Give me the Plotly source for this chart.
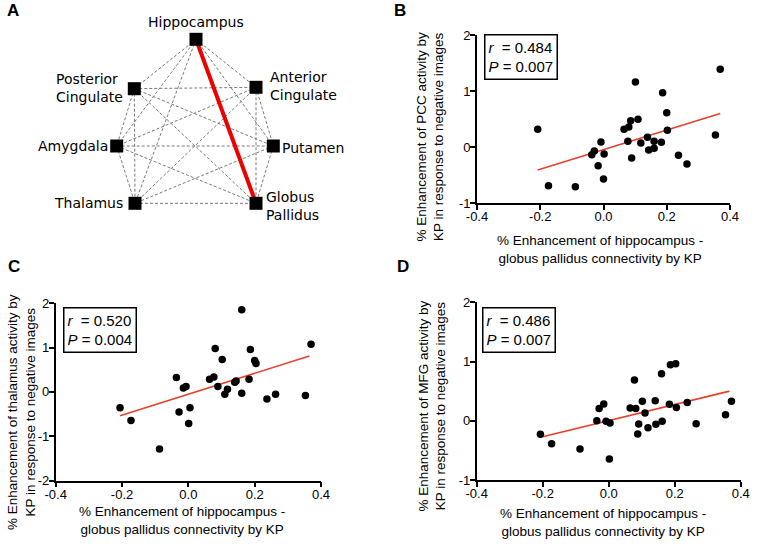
import plotly.graph_objects as go

W, H = 757, 544

# ---------------- Panel A: network ----------------
node_names = ["Hippocampus", "Posterior Cingulate", "Anterior Cingulate",
              "Amygdala", "Putamen", "Thalamus", "Globus Pallidus"]
node_x = [196, 134.3, 256, 116.7, 273.3, 135, 256]
node_y = [39.3, 88.7, 87.3, 146, 146, 203.3, 203.3]
label_text = ["Hippocampus", "Posterior<br>Cingulate", "Anterior<br>Cingulate",
              "Amygdala", "Putamen", "Thalamus", "Globus<br>Pallidus"]
highlight_edge = ("Hippocampus", "Globus Pallidus")

# ---------------- Panel B: PCC ----------------
b_x = [-0.208, -0.174, -0.089, -0.037, -0.029, -0.017, -0.008, 0.002, 0.0,
       0.065, 0.080, 0.086, 0.077, 0.089, 0.101, 0.109, 0.118, 0.139, 0.143,
       0.160, 0.160, 0.183, 0.187, 0.200, 0.202, 0.237, 0.264, 0.354, 0.369]
b_y = [0.315, -0.69, -0.71, -0.137, -0.07, -0.333, 0.089, -0.125, -0.571,
       0.315, 0.357, 0.47, 0.101, -0.196, 1.16, 0.494, 0.071, 0.173, -0.054,
       0.101, -0.024, 0.083, 0.970, 0.613, 0.298, -0.149, -0.304, 0.214, 1.387]
b_fit_x = [-0.208, 0.369]
b_fit_y = [-0.41, 0.60]

# ---------------- Panel C: thalamus ----------------
c_x = [-0.206, -0.173, -0.087, -0.036, -0.028, -0.015, -0.007, 0.005, 0.001,
       0.064, 0.077, 0.081, 0.089, 0.102, 0.110, 0.118, 0.140, 0.144, 0.161,
       0.161, 0.183, 0.187, 0.200, 0.204, 0.237, 0.263, 0.353, 0.370]
c_y = [-0.36, -0.647, -1.29, 0.323, -0.451, 0.09, 0.12, -0.36, -0.714,
       0.286, 0.338, 0.977, 0.12, 0.729, -0.053, 0.06, 0.218, 0.248, 1.857,
       -0.03, 0.286, 0.955, 0.707, 0.639, -0.158, -0.053, -0.083, 1.075]
c_fit_x = [-0.206, 0.365]
c_fit_y = [-0.54, 0.81]

# ---------------- Panel D: MFG ----------------
d_x = [-0.207, -0.173, -0.087, -0.036, -0.029, -0.015, -0.008, 0.004, 0.002,
       0.065, 0.078, 0.082, 0.088, 0.091, 0.102, 0.110, 0.119, 0.141, 0.143,
       0.162, 0.160, 0.184, 0.187, 0.203, 0.205, 0.238, 0.265, 0.354, 0.372]
d_y = [-0.229, -0.387, -0.477, 0.002, 0.205, 0.284, -0.010, -0.038, -0.645,
       0.215, 0.688, 0.209, -0.223, -0.055, 0.328, 0.131, -0.116, 0.339, -0.06,
       -0.01, 0.795, 0.277, 0.947, 0.964, 0.225, 0.31, -0.049, 0.103, 0.328]
d_fit_x = [-0.200, 0.366]
d_fit_y = [-0.27, 0.50]

r_vals = [0.484, 0.520, 0.486]
p_vals = [0.007, 0.004, 0.007]

x_tickvals = [-0.4, -0.2, 0.0, 0.2, 0.4]
x_ticktext = ["-0.4", "-0.2", "0.0", "0.2", "0.4"]
x_title = "% Enhancement of hippocampus -<br>globus pallidus connectivity by KP"
y_titles = [
    "% Enhancement of PCC activity by<br>KP in response to negative images",
    "% Enhancement of thalamus activity by<br>KP in response to negative images",
    "% Enhancement of MFG activity by<br>KP in response to negative images",
]

FONT = "Liberation Sans, Arial, Helvetica, sans-serif"
FONT_A = "DejaVu Sans, Verdana, sans-serif"


def px(x):
    return x / W


def py(y):
    return 1 - y / H


fig = go.Figure()

# ---- network edges ----
idx = {n: i for i, n in enumerate(node_names)}
ex, ey = [], []
for i in range(len(node_names)):
    for j in range(i + 1, len(node_names)):
        if {node_names[i], node_names[j]} == set(highlight_edge):
            continue
        ex += [node_x[i], node_x[j], None]
        ey += [node_y[i], node_y[j], None]
fig.add_trace(go.Scatter(x=ex, y=ey, mode="lines", xaxis="x4", yaxis="y4",
                         line=dict(color="#7a7a7a", width=1, dash="3px,2px"),
                         hoverinfo="skip", showlegend=False))
a, b = idx[highlight_edge[0]], idx[highlight_edge[1]]
fig.add_trace(go.Scatter(x=[node_x[a], node_x[b]], y=[node_y[a], node_y[b]],
                         mode="lines", xaxis="x4", yaxis="y4",
                         line=dict(color="#ee0000", width=4),
                         hoverinfo="skip", showlegend=False))
fig.add_trace(go.Scatter(x=node_x, y=node_y, mode="markers", xaxis="x4", yaxis="y4",
                         marker=dict(symbol="square", size=13, color="black"),
                         showlegend=False))

label_style = [
    dict(xanchor="center", yanchor="middle", xshift=0, yshift=17, align="center"),
    dict(xanchor="right", yanchor="middle", xshift=-9, yshift=1, align="left"),
    dict(xanchor="left", yanchor="middle", xshift=12, yshift=1, align="left"),
    dict(xanchor="right", yanchor="middle", xshift=-7, yshift=0, align="right"),
    dict(xanchor="left", yanchor="middle", xshift=7, yshift=-2, align="left"),
    dict(xanchor="right", yanchor="middle", xshift=-10, yshift=0, align="right"),
    dict(xanchor="left", yanchor="middle", xshift=8, yshift=-3, align="left"),
]
annotations = []
for i, t in enumerate(label_text):
    annotations.append(dict(x=node_x[i], y=node_y[i], xref="x4", yref="y4", text=t,
                            showarrow=False, font=dict(family=FONT_A, size=14, color="black"),
                            **label_style[i]))

# ---- scatter panels ----
panels = [
    dict(xs=b_x, ys=b_y, fx=b_fit_x, fy=b_fit_y, xa="x", ya="y"),
    dict(xs=c_x, ys=c_y, fx=c_fit_x, fy=c_fit_y, xa="x2", ya="y2"),
    dict(xs=d_x, ys=d_y, fx=d_fit_x, fy=d_fit_y, xa="x3", ya="y3"),
]
for p in panels:
    fig.add_trace(go.Scatter(x=p["fx"], y=p["fy"], mode="lines", xaxis=p["xa"], yaxis=p["ya"],
                             line=dict(color="#e8412b", width=1.6), showlegend=False,
                             hoverinfo="skip"))
    fig.add_trace(go.Scatter(x=p["xs"], y=p["ys"], mode="markers", xaxis=p["xa"], yaxis=p["ya"],
                             marker=dict(color="black", size=7.5), showlegend=False))

axis_common = dict(showline=True, linecolor="black", linewidth=1.6, ticks="outside",
                   ticklen=5, tickwidth=1.6, tickcolor="black", showgrid=False,
                   zeroline=False, automargin=False,
                   tickfont=dict(family=FONT, size=13, color="black"))

geom = [
    # (x0, x1, ytop, ybottom, yrange, yticks)
    (477, 730, 35, 203, [-1, 2], [-1, 0, 1, 2]),
    (55.7, 321, 303.3, 480.5, [-2, 2], [-2, -1, 0, 1, 2]),
    (476.7, 740.7, 302.3, 480, [-1, 2], [-1, 0, 1, 2]),
]
layout_axes = {}
names = [("xaxis", "yaxis", "y", "x"), ("xaxis2", "yaxis2", "y2", "x2"),
         ("xaxis3", "yaxis3", "y3", "x3")]
for (xn, yn, yanc, xanc), (x0, x1, yt, yb, yr, yt_vals) in zip(names, geom):
    layout_axes[xn] = dict(domain=[px(x0), px(x1)], range=[-0.4, 0.4], anchor=yanc,
                           tickvals=x_tickvals, ticktext=x_ticktext,
                           ticklabelstandoff=-4, **axis_common)
    layout_axes[yn] = dict(domain=[py(yb), py(yt)], range=yr, anchor=xanc,
                           tickvals=yt_vals, ticktext=[str(v) for v in yt_vals],
                           ticklabelstandoff=-3, **axis_common)

layout_axes["xaxis4"] = dict(domain=[0, px(330)], range=[0, 330], visible=False,
                             anchor="y4", automargin=False)
layout_axes["yaxis4"] = dict(domain=[py(240), 1], range=[240, 0], visible=False,
                             anchor="x4", automargin=False)

# stat boxes
box_pos = [(484, 34), (63.3, 306.7), (481.7, 306.7)]
for (bx, by), r, pv in zip(box_pos, r_vals, p_vals):
    annotations.append(dict(x=px(bx), y=py(by), xref="paper", yref="paper",
                            xanchor="left", yanchor="top", align="left", showarrow=False,
                            text=f"<i>r</i>  = {r:.3f}<br><i>P</i> = {pv:.3f}",
                            font=dict(family=FONT, size=15, color="black"),
                            bordercolor="black", borderwidth=1.5, borderpad=3,
                            bgcolor="white"))

# x-axis titles
xt_pos = [(600, 250), (181.6, 520.5), (603, 522.7)]
for cx, cy in xt_pos:
    annotations.append(dict(x=px(cx), y=py(cy), xref="paper", yref="paper",
                            xanchor="center", yanchor="middle", showarrow=False,
                            text=x_title, font=dict(family=FONT, size=13.5, color="black")))

# y-axis titles (rotated)
yt_pos = [(429.5, 137), (21, 412), (431.5, 406)]
for (cx, cy), t in zip(yt_pos, y_titles):
    annotations.append(dict(x=px(cx), y=py(cy), xref="paper", yref="paper",
                            xanchor="center", yanchor="middle", showarrow=False,
                            textangle=-90, text=t,
                            font=dict(family=FONT, size=13.5, color="black")))

# panel letters
for letter, lx, ly in [("A", 13, 10), ("B", 400, 10), ("C", 14, 267), ("D", 403, 267)]:
    annotations.append(dict(x=px(lx), y=py(ly), xref="paper", yref="paper",
                            xanchor="center", yanchor="middle", showarrow=False,
                            text=f"<b>{letter}</b>",
                            font=dict(family=FONT, size=17, color="black")))

fig.update_layout(width=W, height=H,
                  margin=dict(l=0, r=0, t=0, b=0, pad=0, autoexpand=False),
                  paper_bgcolor="white", plot_bgcolor="white",
                  annotations=annotations, **layout_axes)

fig.write_html("out.html", config={"displayModeBar": False},
               post_script="document.body.style.margin='0';document.body.style.padding='0';")
